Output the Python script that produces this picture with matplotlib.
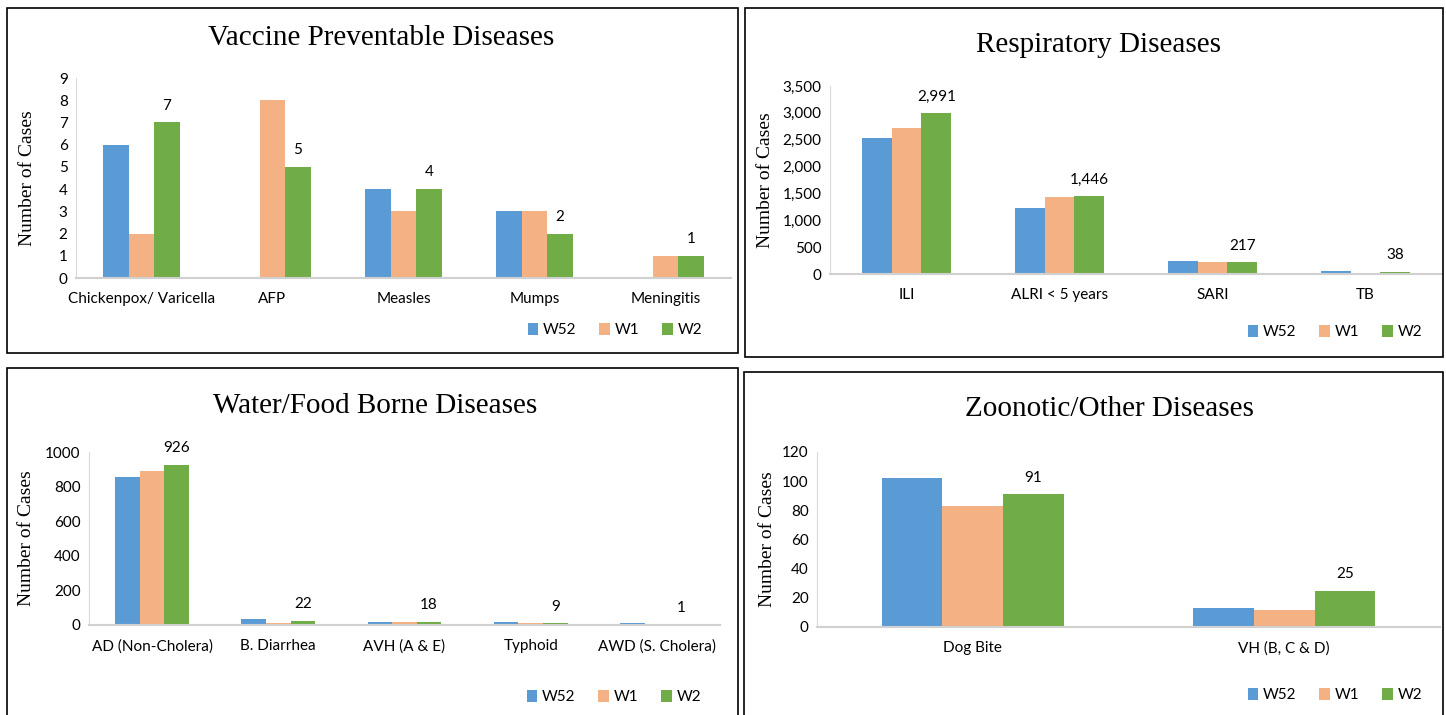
import matplotlib
matplotlib.use("Agg")
import matplotlib.pyplot as plt
from matplotlib.patches import Rectangle
from matplotlib.ticker import FuncFormatter
import numpy as np

W, H = 1446, 715

series = ["W52", "W1", "W2"]
colors = ["#5B9BD5", "#F4B183", "#70AD47"]

# vaccine preventable
vpd_cats = ["Chickenpox/ Varicella", "AFP", "Measles", "Mumps", "Meningitis"]
vpd_w52 = [6, 0, 4, 3, 0]
vpd_w1 = [2, 8, 3, 3, 1]
vpd_w2 = [7, 5, 4, 2, 1]

# respiratory
resp_cats = ["ILI", "ALRI < 5 years", "SARI", "TB"]
resp_w52 = [2530, 1220, 245, 55]
resp_w1 = [2720, 1440, 215, 18]
resp_w2 = [2991, 1446, 217, 38]

# water / food borne
wfb_cats = ["AD (Non-Cholera)", "B. Diarrhea", "AVH (A & E)", "Typhoid", "AWD (S. Cholera)"]
wfb_w52 = [855, 35, 15, 15, 14]
wfb_w1 = [890, 12, 15, 14, 3]
wfb_w2 = [926, 22, 18, 9, 1]

# zoonotic / other
zoo_cats = ["Dog Bite", "VH (B, C & D)"]
zoo_w52 = [102, 13]
zoo_w1 = [83, 12]
zoo_w2 = [91, 25]

label_font = ["Lato", "DejaVu Sans"]
title_font = ["Liberation Serif", "DejaVu Serif"]


def rect(x0, y0, x1, y1):
    # pixel box -> figure fraction [left, bottom, width, height]
    return [x0 / W, 1 - y1 / H, (x1 - x0) / W, (y1 - y0) / H]


fig = plt.figure(figsize=(W / 100, H / 100), dpi=100)

# panel borders
for x0, y0, x1, y1 in [(7, 8, 738, 353), (745, 8, 1443, 357),
                       (7, 368, 738, 716), (744, 372, 1443, 716)]:
    fig.add_artist(Rectangle((x0 / W, 1 - y1 / H), (x1 - x0) / W, (y1 - y0) / H,
                             transform=fig.transFigure, fill=False,
                             edgecolor="black", linewidth=1.2))

panels = [
    dict(title="Vaccine Preventable Diseases", cats=vpd_cats, vals=[vpd_w52, vpd_w1, vpd_w2],
         box=(76, 78, 731, 278), ymax=9, step=1, comma=False,
         tx=381, ty=38, lx=28, leg=(615, 330)),
    dict(title="Respiratory Diseases", cats=resp_cats, vals=[resp_w52, resp_w1, resp_w2],
         box=(830, 86, 1442, 274), ymax=3500, step=500, comma=True,
         tx=1099, ty=45, lx=765, leg=(1335, 332)),
    dict(title="Water/Food Borne Diseases", cats=wfb_cats, vals=[wfb_w52, wfb_w1, wfb_w2],
         box=(89, 452, 720, 625), ymax=1000, step=200, comma=False,
         tx=375, ty=406, lx=27, leg=(614, 697)),
    dict(title="Zoonotic/Other Diseases", cats=zoo_cats, vals=[zoo_w52, zoo_w1, zoo_w2],
         box=(817, 452, 1440, 627), ymax=120, step=20, comma=False,
         tx=1109, ty=409, lx=767, leg=(1335, 695)),
]

bw = 0.195
for p in panels:
    ax = fig.add_axes(rect(*p["box"]))
    x = np.arange(len(p["cats"]))
    for i, (name, vals, c) in enumerate(zip(series, p["vals"], colors)):
        bars = ax.bar(x + (i - 1) * bw, vals, bw, color=c, label=name, linewidth=0)
        if name == "W2":
            for b, v in zip(bars, vals):
                txt = f"{v:,}" if p["comma"] else str(v)
                ax.annotate(txt, (b.get_x() + b.get_width() / 2, v),
                            xytext=(0, 7), textcoords="offset points",
                            ha="center", va="bottom", fontsize=11,
                            family=label_font)
    ax.set_xlim(-0.5, len(p["cats"]) - 0.5)
    ax.set_ylim(0, p["ymax"])
    ax.set_yticks(np.arange(0, p["ymax"] + 1, p["step"]))
    if p["comma"]:
        ax.yaxis.set_major_formatter(FuncFormatter(lambda v, pos: f"{int(v):,}"))
    ax.set_xticks(x)
    ax.set_xticklabels(p["cats"])
    for lab in ax.get_xticklabels() + ax.get_yticklabels():
        lab.set_family(label_font)
        lab.set_fontsize(11)
    ax.tick_params(axis="both", length=0)
    ax.tick_params(axis="x", pad=10)
    ax.tick_params(axis="y", pad=6)
    for s in ["top", "right"]:
        ax.spines[s].set_visible(False)
    ax.spines["left"].set_color("#d9d9d9")
    ax.spines["bottom"].set_color("#d0d0d0")
    ax.spines["bottom"].set_linewidth(1.5)
    ax.set_facecolor("none")

    fig.text(p["tx"] / W, 1 - p["ty"] / H, p["title"], ha="center", va="center",
             fontsize=21, family=title_font)
    y0, y1 = p["box"][1], p["box"][3]
    fig.text(p["lx"] / W, 1 - (y0 + y1) / 2 / H, "Number of Cases", rotation=90,
             ha="center", va="center", fontsize=14, family=title_font)
    ax.legend(loc="center", bbox_to_anchor=(p["leg"][0] / W, 1 - p["leg"][1] / H),
              bbox_transform=fig.transFigure, ncol=3, frameon=False,
              handlelength=0.7, handleheight=0.9, handletextpad=0.3,
              columnspacing=1.5, prop={"family": label_font, "size": 11})

plt.savefig("out.png", dpi=100)
